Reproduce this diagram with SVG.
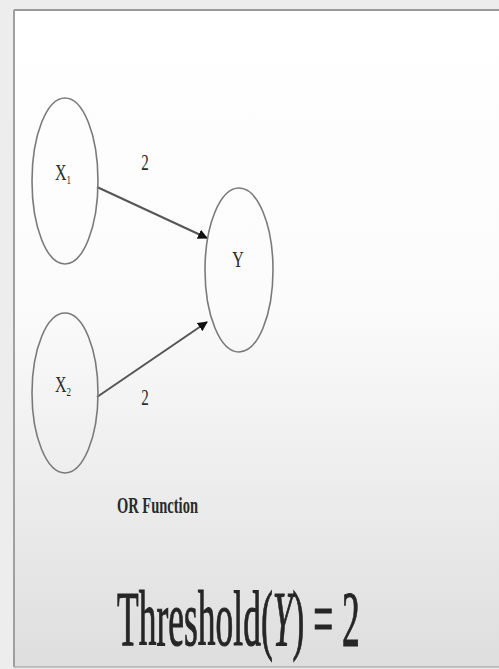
<svg xmlns="http://www.w3.org/2000/svg" width="499" height="669" viewBox="0 0 499 669">
  <defs>
    <linearGradient id="panelFill" x1="0" y1="0" x2="0" y2="1">
      <stop offset="0" stop-color="#ffffff"/>
      <stop offset="0.45" stop-color="#fbfbfb"/>
      <stop offset="1" stop-color="#dedede"/>
    </linearGradient>
    <marker id="arrowHead" viewBox="0 0 10 10" refX="9" refY="5" markerWidth="5" markerHeight="5" orient="auto" markerUnits="strokeWidth">
      <path d="M0,0 L10,5 L0,10 z" fill="#111"/>
    </marker>
  </defs>
  <style>
    .node { fill: none; stroke: #7a7a7a; stroke-width: 1.6; }
    .edge { stroke: #555; stroke-width: 2; fill: none; marker-end: url(#arrowHead); }
    .lbl { font-family: "Liberation Serif", "Times New Roman", serif; fill: #2a2a2a; }
    .big { font-family: "Liberation Serif", "Times New Roman", serif; fill: #262626; stroke: #262626; stroke-width: 0.5; }
  </style>

  <!-- slide background and frame -->
  <rect x="0" y="0" width="499" height="669" fill="#ededed"/>
  <rect x="14" y="10" width="490" height="657" fill="url(#panelFill)"/>
  <line x1="14" y1="10" x2="499" y2="10" stroke="#9a9a9a" stroke-width="2"/>
  <line x1="14" y1="10" x2="14" y2="667" stroke="#a0a0a0" stroke-width="2"/>
  <line x1="14" y1="667" x2="499" y2="667" stroke="#b0b0b0" stroke-width="1.5"/>

  <!-- connectors -->
  <g id="connectors">
    <line class="edge" x1="97" y1="187" x2="207" y2="238"/>
    <line class="edge" x1="97" y1="397" x2="207" y2="322"/>
    <text class="lbl" transform="translate(145,170) scale(1,1.5)" font-size="15" text-anchor="middle">2</text>
    <text class="lbl" transform="translate(145,405) scale(1,1.5)" font-size="15" text-anchor="middle">2</text>
  </g>

  <g id="node-x1">
    <ellipse class="node" cx="65" cy="181" rx="33" ry="83"/>
    <text class="lbl" transform="translate(55,180) scale(1,1.4)" font-size="16">X<tspan font-size="9" dy="3">1</tspan></text>
  </g>

  <g id="node-x2">
    <ellipse class="node" cx="65" cy="393" rx="33" ry="80"/>
    <text class="lbl" transform="translate(55,392) scale(1,1.4)" font-size="16">X<tspan font-size="9" dy="3">2</tspan></text>
  </g>

  <g id="node-y">
    <ellipse class="node" cx="239" cy="270" rx="34" ry="82"/>
    <text class="lbl" transform="translate(238,267) scale(1,1.5)" font-size="16" text-anchor="middle">Y</text>
  </g>

  <g id="caption">
    <text class="lbl" transform="translate(117,513) scale(1,1.55)" font-size="14.5" font-weight="bold" fill="#222">OR Function</text>
  </g>

  <g id="threshold">
    <text class="big" transform="translate(117,645) scale(1,2.2)" font-size="35.5">Threshold(<tspan font-style="italic">Y</tspan>) = 2</text>
  </g>
</svg>
